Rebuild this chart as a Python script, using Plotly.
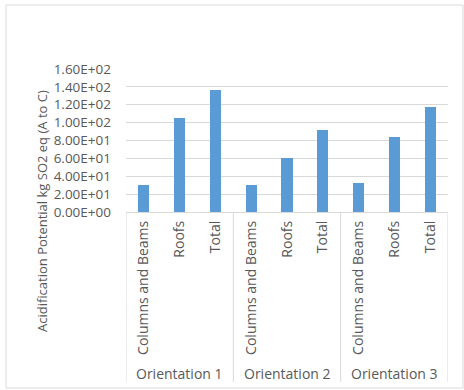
import plotly.graph_objects as go

groups = ["Orientation 1", "Orientation 2", "Orientation 3"]
components = ["Columns and Beams", "Roofs", "Total"]
values = [30, 105, 136, 30, 60, 92, 33, 84, 118]
y_ticks = [0, 20, 40, 60, 80, 100, 120, 140, 160]
y_title = "Acidification Potential kg SO2 eq (A to C)"

text_color = "#595959"
grid_color = "#D9D9D9"
bar_color = "#5B9BD5"
font_family = "Open Sans"

n_comp = len(components)
x_pos = list(range(len(values)))
x_labels = [components[i % n_comp] for i in x_pos]

fig = go.Figure()
fig.add_trace(go.Bar(
    x=x_pos, y=values, width=0.31,
    marker=dict(color=bar_color, line=dict(width=0)),
    hoverinfo="skip",
))

W, H = 464, 390
L, R, T, B = 126, 16, 69, 178
plot_h = H - T - B

def py(pix):
    return (H - B - pix) / plot_h

def px(pix):
    return (pix - L) / (W - L - R)

shapes = []
# group separators
for k in range(len(groups) + 1):
    xv = k * n_comp - 0.5
    shapes.append(dict(type="line", xref="x", yref="paper",
                       x0=xv, x1=xv, y0=0, y1=py(382),
                       line=dict(color=grid_color, width=1)))
# outer border
shapes.append(dict(type="rect", xref="paper", yref="paper",
                   x0=px(6), x1=px(463), y0=py(388), y1=py(5),
                   line=dict(color=grid_color, width=1)))

annotations = []
for g, name in enumerate(groups):
    annotations.append(dict(x=g * n_comp + (n_comp - 1) / 2, xref="x",
                            y=py(373), yref="paper", text=name,
                            showarrow=False, xanchor="center", yanchor="middle",
                            font=dict(size=14, color=text_color, family=font_family)))
annotations.append(dict(x=px(42), y=py(211), xref="paper", yref="paper",
                        text=y_title, textangle=-90, showarrow=False,
                        xanchor="center", yanchor="middle",
                        font=dict(size=13, color=text_color, family=font_family)))

fig.update_layout(
    width=W, height=H,
    margin=dict(l=L, r=R, t=T, b=B),
    paper_bgcolor="white", plot_bgcolor="white",
    showlegend=False,
    bargap=0,
    font=dict(family=font_family, size=13, color=text_color),
    shapes=shapes,
    annotations=annotations,
    xaxis=dict(
        range=[-0.5, len(values) - 0.5],
        tickmode="array", tickvals=x_pos, ticktext=x_labels,
        tickangle=-90, showgrid=False, zeroline=False, showline=False,
        ticks="", ticklabelstandoff=5,
        tickfont=dict(size=14, color=text_color),
        fixedrange=True,
    ),
    yaxis=dict(
        range=[0, 160],
        tickmode="array", tickvals=y_ticks,
        ticktext=[f"{v:.2E}" for v in y_ticks],
        showgrid=True, gridcolor=grid_color, gridwidth=1,
        zeroline=True, zerolinecolor=grid_color, zerolinewidth=1,
        showline=False, ticks="", ticklabelstandoff=14,
        tickfont=dict(size=13.5, color=text_color),
        fixedrange=True,
    ),
)

fig.write_html("out.html")
